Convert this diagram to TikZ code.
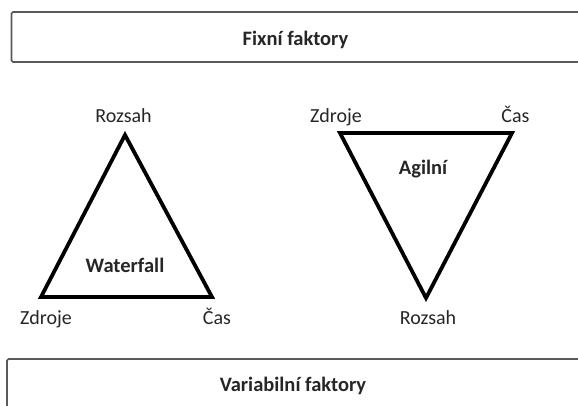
\documentclass[tikz,border=0pt]{standalone}
\usepackage{fontspec}
\setmainfont{Carlito}
\begin{document}
\begin{tikzpicture}[x=1pt,y=-1pt,
  lbl/.style={font=\fontsize{20}{22}\selectfont, inner sep=0pt, anchor=base, text=black!85},
  ttl/.style={font=\fontsize{20.5}{23}\selectfont\bfseries, inner sep=0pt, anchor=base, text=black!85},
  tri/.style={draw=black, line width=3.8pt, line join=miter},
  bar/.style={draw=black!65, line width=1.6pt, rounded corners=1.5pt}]
\useasboundingbox (0,0) rectangle (578,406);
\draw[bar] (11.5,12) rectangle (595,62);
\node[ttl] (fix) at (295.5,45.5) {Fixní faktory};
\draw[bar] (7,359) rectangle (595,420);
\node[ttl] (var) at (293,391) {Variabilní faktory};
% left triangle
\coordinate (a1) at (125,135);
\coordinate (b1) at (41,297);
\coordinate (c1) at (212,297);
\draw[tri] (a1) -- (b1) -- (c1) -- cycle;
\node[lbl] (r1) at (123.5,122.7) {Rozsah};
\node[lbl] (z1) at (46,324) {Zdroje};
\node[lbl] (t1) at (217,324) {Čas};
\node[ttl] (w) at (125,272.7) {Waterfall};
% right triangle
\coordinate (a2) at (340,133);
\coordinate (b2) at (512,133);
\coordinate (c2) at (426,298);
\draw[tri] (a2) -- (b2) -- (c2) -- cycle;
\node[lbl] (z2) at (336,123) {Zdroje};
\node[lbl] (t2) at (515.5,123) {Čas};
\node[lbl] (r2) at (428,324) {Rozsah};
\node[ttl] (ag) at (423,175) {Agilní};
\end{tikzpicture}
\end{document}
